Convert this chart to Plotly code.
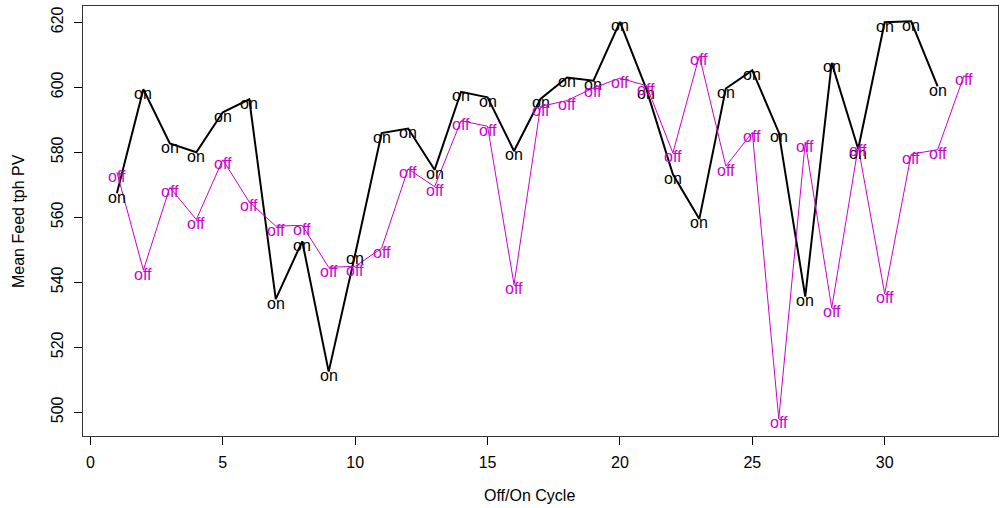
import plotly.graph_objects as go

# Data
cycle_on = list(range(1, 33))
feed_on = [567.4, 599.4, 582.7, 580.0, 592.3, 596.3, 534.8, 552.6, 512.5, 548.6,
           585.9, 587.3, 574.6, 598.6, 596.9, 580.4, 596.4, 603.0, 602.0, 620.1,
           599.4, 573.2, 559.5, 599.6, 605.2, 586.1, 535.6, 607.5, 581.0, 620.0,
           620.3, 600.3]

cycle_off = list(range(1, 34))
feed_off = [573.9, 543.7, 569.2, 559.3, 577.7, 564.7, 557.3, 557.5, 544.6, 544.9,
            550.5, 574.9, 569.4, 589.7, 588.0, 539.3, 594.1, 595.9, 599.8, 602.8,
            600.5, 579.8, 609.7, 575.7, 586.1, 498.0, 583.1, 532.1, 581.7, 536.5,
            579.4, 580.8, 603.7]

x_ticks = [0, 5, 10, 15, 20, 25, 30]
y_ticks = [500, 520, 540, 560, 580, 600, 620]

FONT = "Liberation Sans, Arial, Helvetica, sans-serif"
MAG = "#CD00CD"
TEXT_SHIFT = -4  # pixels, labels sit slightly below the vertex as in R

fig = go.Figure()
fig.add_trace(go.Scatter(
    x=cycle_on, y=feed_on, mode="lines",
    line=dict(color="black", width=2),
    showlegend=False, hoverinfo="skip"))
fig.add_trace(go.Scatter(
    x=cycle_off, y=feed_off, mode="lines",
    line=dict(color=MAG, width=1),
    showlegend=False, hoverinfo="skip"))

annotations = []
for xv, yv in zip(cycle_on, feed_on):
    annotations.append(dict(x=xv, y=yv, xref="x", yref="y", text="on", showarrow=False,
                            xanchor="center", yanchor="middle", yshift=TEXT_SHIFT,
                            font=dict(family=FONT, size=16, color="black")))
for xv, yv in zip(cycle_off, feed_off):
    annotations.append(dict(x=xv, y=yv, xref="x", yref="y", text="off", showarrow=False,
                            xanchor="center", yanchor="middle", yshift=TEXT_SHIFT,
                            font=dict(family=FONT, size=16, color=MAG)))

annotations += [
    dict(text="Off/On Cycle", xref="paper", yref="paper",
         x=(529 - 83) / (1000 - 85), y=0, yshift=-59, showarrow=False,
         xanchor="center", yanchor="middle", font=dict(size=16)),
    dict(text="Mean Feed tph PV", xref="paper", yref="paper",
         x=0, xshift=-65, y=0.5, showarrow=False, textangle=-90,
         xanchor="center", yanchor="middle", font=dict(size=16)),
]

fig.update_layout(
    width=1000, height=508, autosize=False,
    margin=dict(l=83, r=2, t=6, b=72),
    plot_bgcolor="white", paper_bgcolor="white",
    font=dict(family=FONT, size=16, color="black"),
    hovermode=False,
    xaxis=dict(range=[-0.28, 34.28], tickvals=x_ticks, ticks="outside", ticklen=8,
               tickcolor="black", showgrid=False, zeroline=False,
               showline=True, linecolor="#333", linewidth=1, mirror=True,
               ticklabelstandoff=4, tickfont=dict(size=16)),
    yaxis=dict(range=[492.7, 625.0], tickvals=y_ticks, ticks="outside", ticklen=8,
               tickcolor="black", showgrid=False, zeroline=False,
               showline=True, linecolor="#333", linewidth=1, mirror=True,
               tickangle=-90, ticklabelstandoff=5, tickfont=dict(size=16)),
    annotations=annotations,
)

fig.write_html("out.html",
               config={"displayModeBar": False, "staticPlot": True},
               post_script="document.body.style.margin='0px';document.body.style.overflow='hidden';")
